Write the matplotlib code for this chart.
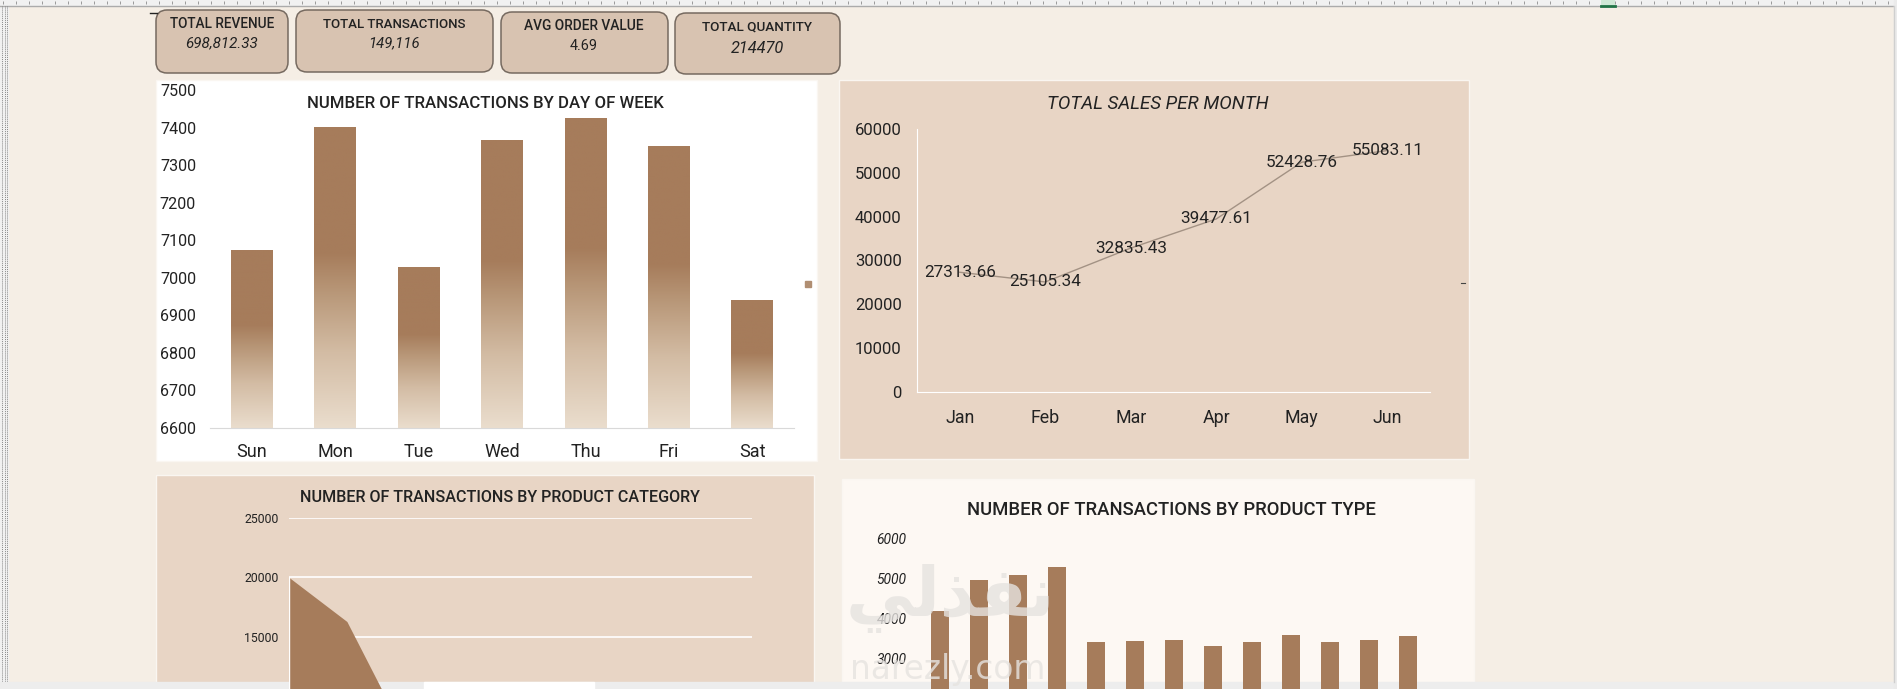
import numpy as np
import matplotlib
matplotlib.use("Agg")
import matplotlib.pyplot as plt
from matplotlib.patches import Rectangle, FancyBboxPatch
from matplotlib.colors import LinearSegmentedColormap

plt.rcParams['font.family'] = ['Roboto', 'DejaVu Sans']

# ---- data ----
kpi_titles = ["TOTAL REVENUE", "TOTAL TRANSACTIONS", "AVG ORDER VALUE", "TOTAL QUANTITY"]
kpi_values = ["698,812.33", "149,116", "4.69", "214470"]

days = ["Sun", "Mon", "Tue", "Wed", "Thu", "Fri", "Sat"]
day_trans = [7073, 7402, 7030, 7367, 7426, 7351, 6941]

months = ["Jan", "Feb", "Mar", "Apr", "May", "Jun"]
month_sales = [27313.66, 25105.34, 32835.43, 39477.61, 52428.76, 55083.11]

# nine categories, only the first three are visible on the sheet
cat_trans = [20000, 16290, 6780, 4100, 2300, 1400, 900, 650, 450]

type_trans = [4200, 4975, 5100, 5300, 3425, 3450, 3475, 3325, 3425, 3600, 3417, 3475, 3575]

# ---- colours ----
CREAM = "#F5EEE5"
TAN = "#E8D5C5"
LIGHT = "#FDF8F3"
CARD = "#D8C3B1"
BROWN = "#A67C5B"
INK = "#222222"

W, H = 1897, 689
fig = plt.figure(figsize=(W / 100, H / 100), dpi=100, facecolor=CREAM)


def rect(l, t, r, b):
    return [l / W, 1 - b / H, (r - l) / W, (b - t) / H]


# background canvas in pixel coords (y down)
bg = fig.add_axes([0, 0, 1, 1], zorder=0)
bg.set_xlim(0, W)
bg.set_ylim(H, 0)
bg.axis('off')

# excel chrome
bg.add_patch(Rectangle((0, 0), W, 5, color="#F1F1F1", zorder=1))
bg.plot([0, W], [5.5, 5.5], color="#ABABAB", lw=1, zorder=2)
bg.vlines(np.arange(3, W, 13), 0.5, 3.5, color="#9A9A9A", lw=0.7, zorder=2)
bg.add_patch(Rectangle((1601, 0), 14, 6, facecolor="#CFE8D6", edgecolor="none", zorder=3))
bg.plot([1601, 1615], [5.5, 5.5], color="#217346", lw=2, zorder=3)
bg.add_patch(Rectangle((0, 0), 8, H, color="#F1F1F1", zorder=1))
bg.vlines([2, 4.5, 7], 6, 682, color="#8A8A8A", lw=0.7, linestyles=(0, (1, 1)), zorder=2)
bg.add_patch(Rectangle((0, 682), W, 7, color="#EDEDED", zorder=5))
bg.add_patch(Rectangle((424, 682), 170, 7, color="#FFFFFF", zorder=6))
bg.add_patch(Rectangle((1894, 0), 3, H, color="#EBEBEB", zorder=5))
bg.plot([1894, 1894], [6, 682], color="#CFCFCF", lw=1, zorder=6)
bg.plot([150, 157], [13, 13], color="#222222", lw=1, zorder=3)

# panels
panels = [
    (156, 80, 817, 461, "#FFFFFF"),
    (839, 80, 1469, 459, TAN),
    (156, 475, 814, 700, TAN),
    (842, 479, 1474, 700, LIGHT),
]
for l, t, r, b, c in panels:
    bg.add_patch(Rectangle((l, t), r - l, b - t, facecolor=c,
                           edgecolor="#FAF6F1", lw=1, zorder=1))
bg.add_patch(Rectangle((805, 281), 6, 6, color="#B08E72", zorder=2))
bg.plot([1461, 1465], [283, 283], color="#444444", lw=0.8, zorder=2)

# KPI cards
cards = [(156, 10, 288, 73), (296, 10, 493, 72), (501, 12, 668, 73), (675, 13, 840, 74)]
fits = []
for l, t, r, b in cards:
    bg.add_patch(FancyBboxPatch((l, t), r - l, b - t,
                                boxstyle="round,pad=0,rounding_size=11",
                                facecolor=CARD, edgecolor="#766A60", lw=1.1, zorder=2))
cx_title = [(222, 24.5, 104), (394, 24.5, 143), (584, 26.5, 120), (757, 27.5, 110)]
cx_value = [(222, 43.5, 72), (394, 43.5, 51), (584, 45.5, 28), (757, 48.5, 53)]
for i in range(4):
    x, y, w = cx_title[i]
    t = bg.text(x, y, kpi_titles[i], ha='center', va='center', color=INK,
                fontsize=10, fontweight='medium', zorder=3)
    fits.append((t, w))
    x, y, w = cx_value[i]
    st = 'normal' if i == 2 else 'italic'
    t = bg.text(x, y, kpi_values[i], ha='center', va='center', color=INK,
                fontsize=10, style=st, zorder=3)
    fits.append((t, w))

# ---- chart 1: transactions by day of week (gradient bars) ----
ax1 = fig.add_axes(rect(210, 90, 794, 428), zorder=2)
ax1.set_facecolor('none')
xs = np.arange(len(days))
bars = ax1.bar(xs, day_trans, width=0.5, color='none', edgecolor='none')
grad_cmap = LinearSegmentedColormap.from_list(
    "bar", [(0.0, "#EADDCD"), (0.25, "#D3BCA4"), (0.45, "#B89778"),
            (0.58, "#A67C5B"), (1.0, "#A67C5B")])
grad = np.linspace(0, 1, 256).reshape(-1, 1)
for xi, v, bar in zip(xs, day_trans, bars):
    im = ax1.imshow(grad, extent=[xi - 0.25, xi + 0.25, 6600, v], origin='lower',
                    cmap=grad_cmap, aspect='auto', zorder=2)
    im.set_clip_path(bar)
ax1.set_xlim(-0.5, len(days) - 0.5)
ax1.set_ylim(6600, 7500)
ax1.set_yticks(np.arange(6600, 7501, 100))
ax1.set_xticks(xs)
ax1.set_xticklabels(days)
for s in ['top', 'right', 'left']:
    ax1.spines[s].set_visible(False)
ax1.spines['bottom'].set_color("#D9D9D9")
ax1.tick_params(axis='y', length=0, labelsize=11.5, colors=INK, pad=10)
ax1.tick_params(axis='x', length=0, labelsize=13, colors=INK, pad=11)
t = bg.text(485, 104, "NUMBER OF TRANSACTIONS BY DAY OF WEEK", ha='center',
            va='center', color=INK, fontsize=12, fontweight='medium', zorder=3)
fits.append((t, 356))

# ---- chart 2: total sales per month ----
ax2 = fig.add_axes(rect(917, 129, 1430, 392), zorder=2)
ax2.set_facecolor('none')
mx = np.arange(len(months))
ax2.plot(mx, month_sales, color="#A39284", lw=1)
for xi, v in zip(mx, month_sales):
    ax2.text(xi, v, f"{v:.2f}", ha='center', va='center', fontsize=12.3, color=INK)
ax2.set_xlim(-0.5, len(months) - 0.5)
ax2.set_ylim(0, 60000)
ax2.set_yticks(np.arange(0, 60001, 10000))
ax2.set_xticks(mx)
ax2.set_xticklabels(months)
for s in ['top', 'right']:
    ax2.spines[s].set_visible(False)
for s in ['left', 'bottom']:
    ax2.spines[s].set_color("#FFFFFF")
ax2.tick_params(axis='y', length=0, labelsize=12, colors=INK, pad=11)
ax2.tick_params(axis='x', length=0, labelsize=12.8, colors=INK, pad=12.5)
t = bg.text(1158, 104, "TOTAL SALES PER MONTH", ha='center', va='center',
            color=INK, fontsize=13, style='italic', zorder=3)
fits.append((t, 221))

# ---- chart 3: transactions by product category (area) ----
ax3 = fig.add_axes(rect(289, 518, 752, 815), zorder=2)
ax3.set_facecolor('none')
cx = np.arange(len(cat_trans))
ax3.fill_between(cx, cat_trans, color=BROWN, lw=0, zorder=3)
ax3.plot([0, 0], [0, cat_trans[0]], color="#FFFFFF", lw=1, zorder=4)
ax3.set_xlim(0, len(cat_trans) - 1)
ax3.set_ylim(0, 25000)
ax3.set_yticks(np.arange(0, 25001, 5000))
ax3.set_yticklabels(["" if v < 15000 else str(v) for v in range(0, 25001, 5000)])
ax3.set_xticks([])
ax3.grid(axis='y', color="#FFFFFF", lw=1.2, zorder=1)
ax3.set_axisbelow(True)
for s in ax3.spines.values():
    s.set_visible(False)
ax3.tick_params(length=0, labelsize=8.8, colors=INK, pad=7.5)
t = bg.text(500, 498, "NUMBER OF TRANSACTIONS BY PRODUCT CATEGORY", ha='center',
            va='center', color=INK, fontsize=12, fontweight='medium', zorder=3)
fits.append((t, 400))

# ---- chart 4: transactions by product type ----
ax4 = fig.add_axes(rect(920.5, 539, 1427.5, 779), zorder=2)
ax4.set_facecolor('none')
tx = np.arange(len(type_trans))
ax4.bar(tx, type_trans, width=0.46, color=BROWN)
ax4.set_xlim(-0.5, len(type_trans) - 0.5)
ax4.set_ylim(0, 6000)
ax4.set_yticks(np.arange(0, 6001, 1000))
ax4.set_yticklabels(["" if v < 3000 else str(v) for v in range(0, 6001, 1000)])
ax4.set_xticks([])
for s in ax4.spines.values():
    s.set_visible(False)
ax4.tick_params(length=0, labelsize=10, colors=INK, pad=10)
for lab in ax4.get_yticklabels():
    lab.set_style('italic')
t = bg.text(1171, 510, "NUMBER OF TRANSACTIONS BY PRODUCT TYPE", ha='center',
            va='center', color=INK, fontsize=12, fontweight='medium', zorder=3)
fits.append((t, 409))

# watermark over the product type chart
wm = fig.add_axes([0, 0, 1, 1], zorder=5)
wm.set_xlim(0, W)
wm.set_ylim(H, 0)
wm.axis('off')
t = wm.text(950, 598, "\uFEF2\uFEDF\uFEAC\uFED4\uFEE7", ha='center', va='center',
            fontsize=40, fontweight='bold', color="#E6E3E0", alpha=0.8,
            family=['DejaVu Sans'])
fits.append((t, 209))
t = wm.text(948, 669, "narezly.com", ha='center', va='center', fontsize=20,
            color="#E6E3E0", alpha=0.8, family=['DejaVu Sans'])
fits.append((t, 195))

# size texts so they span the same width as in the dashboard
fig.canvas.draw()
r = fig.canvas.get_renderer()
for t, w in fits:
    bb = t.get_window_extent(r)
    t.set_fontsize(t.get_fontsize() * w / bb.width)

fig.savefig("out.png", dpi=100, facecolor=CREAM)
